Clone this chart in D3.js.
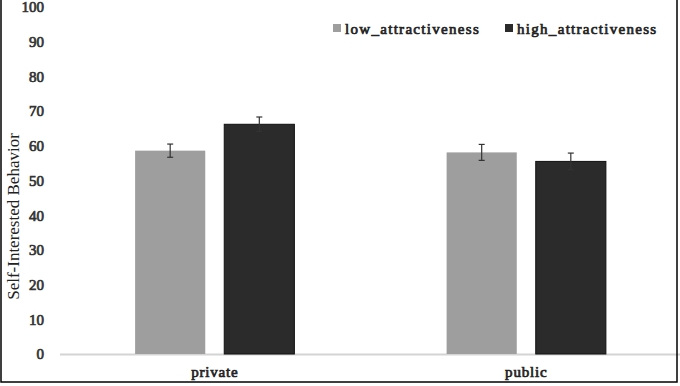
<!DOCTYPE html>
<html>
<head>
<meta charset="utf-8">
<script src="https://cdn.jsdelivr.net/npm/d3@7"></script>
<style>
  body { margin: 0; background: #fff; }
  svg { display: block; }
</style>
</head>
<body>
<script>
// Data
const categories = ["private", "public"];
const seriesNames = ["low_attractiveness", "high_attractiveness"];
const lowValues = [58.6, 58.1];
const highValues = [66.2, 55.5];
const lowErrors = [1.9, 2.3];
const highErrors = [2.1, 2.4];
const yTicks = [0, 10, 20, 30, 40, 50, 60, 70, 80, 90, 100];

const width = 680;
const height = 386;
const margin = {top: 7, right: -2, bottom: 32, left: 59};

const colors = {low_attractiveness: "#9e9e9e", high_attractiveness: "#2b2b2b"};
const serif = "'Liberation Serif', 'DejaVu Serif', serif";

// bold look: serif regular with a thin stroke of the same colour
function boldText(sel, color) {
    sel.attr("font-family", serif)
        .attr("fill", color)
        .attr("stroke", color)
        .attr("stroke-width", 0.7)
        .attr("paint-order", "stroke");
}

const svg = d3.select("body").append("svg")
    .attr("width", width)
    .attr("height", height);

// Scales
const x = d3.scaleBand()
    .domain(categories)
    .range([margin.left, width - margin.right]);

const x1 = d3.scaleBand()
    .domain(seriesNames)
    .range([0, x.bandwidth()])
    .paddingInner(0.213)
    .paddingOuter(0.854);

const y = d3.scaleLinear()
    .domain([0, 100])
    .range([height - margin.bottom, margin.top]);

// Rows for bars
const rows = categories.flatMap((c, i) => [
    {cat: c, series: seriesNames[0], value: lowValues[i], err: lowErrors[i]},
    {cat: c, series: seriesNames[1], value: highValues[i], err: highErrors[i]}
]);

// Y axis labels (no line)
const yAxis = d3.axisLeft(y).tickValues(yTicks).tickSize(0).tickPadding(15);
svg.append("g")
    .attr("transform", `translate(${margin.left},0)`)
    .call(yAxis)
    .attr("font-size", 15)
    .call(g => g.select(".domain").remove())
    .call(g => g.selectAll("text").call(boldText, "#333"));

// Baseline
svg.append("line")
    .attr("x1", margin.left + 1)
    .attr("x2", width)
    .attr("y1", y(0) + 0.5)
    .attr("y2", y(0) + 0.5)
    .attr("stroke", "#d4d4d4")
    .attr("stroke-width", 2);

// Bars
svg.append("g")
    .selectAll("rect")
    .data(rows)
    .join("rect")
    .attr("x", d => x(d.cat) + x1(d.series))
    .attr("width", x1.bandwidth())
    .attr("y", d => y(d.value))
    .attr("height", d => y(0) - y(d.value))
    .attr("fill", d => colors[d.series])
    .attr("stroke", d => d.series === seriesNames[1] ? "#111" : "none")
    .attr("stroke-width", 1);

// Error bars
const eb = svg.append("g")
    .attr("stroke", "#333")
    .attr("stroke-width", 1.2)
    .selectAll("g")
    .data(rows)
    .join("g")
    .attr("transform", d => `translate(${x(d.cat) + x1(d.series) + x1.bandwidth() / 2},0)`);

eb.append("line")
    .attr("y1", d => y(d.value + d.err))
    .attr("y2", d => y(d.value - d.err));
eb.append("line")
    .attr("x1", -3).attr("x2", 3)
    .attr("y1", d => y(d.value + d.err))
    .attr("y2", d => y(d.value + d.err));
eb.append("line")
    .attr("x1", -3).attr("x2", 3)
    .attr("y1", d => y(d.value - d.err))
    .attr("y2", d => y(d.value - d.err));

// X category labels
const xAxis = d3.axisBottom(x).tickSize(0).tickPadding(12);
svg.append("g")
    .attr("transform", `translate(0,${y(0)})`)
    .call(xAxis)
    .attr("font-size", 15)
    .call(g => g.select(".domain").remove())
    .call(g => g.selectAll("text").attr("letter-spacing", 0.8).call(boldText, "#222"));

// Y axis title
svg.append("text")
    .attr("transform", `translate(13,${(y(0) + y(100)) / 2 + 36}) rotate(-90)`)
    .attr("text-anchor", "middle")
    .attr("dy", "0.35em")
    .attr("fill", "#222")
    .attr("font-family", serif)
    .attr("font-size", 17)
    .text("Self-Interested Behavior");

// Legend
const legendX = [333, 505];
const legend = svg.append("g")
    .attr("font-size", 15)
    .selectAll("g")
    .data(seriesNames)
    .join("g")
    .attr("transform", (d, i) => `translate(${legendX[i]},29)`);

legend.append("rect")
    .attr("x", 0)
    .attr("y", -5)
    .attr("width", 8)
    .attr("height", 8)
    .attr("fill", d => colors[d]);

legend.append("text")
    .attr("x", 12)
    .attr("dy", "0.32em")
    .attr("letter-spacing", 1.3)
    .text(d => d)
    .call(boldText, "#222");

// Frame
svg.append("rect")
    .attr("x", 1)
    .attr("y", -5)
    .attr("width", 676)
    .attr("height", 387)
    .attr("fill", "none")
    .attr("stroke", "#000")
    .attr("stroke-width", 1.5);
</script>
</body>
</html>
